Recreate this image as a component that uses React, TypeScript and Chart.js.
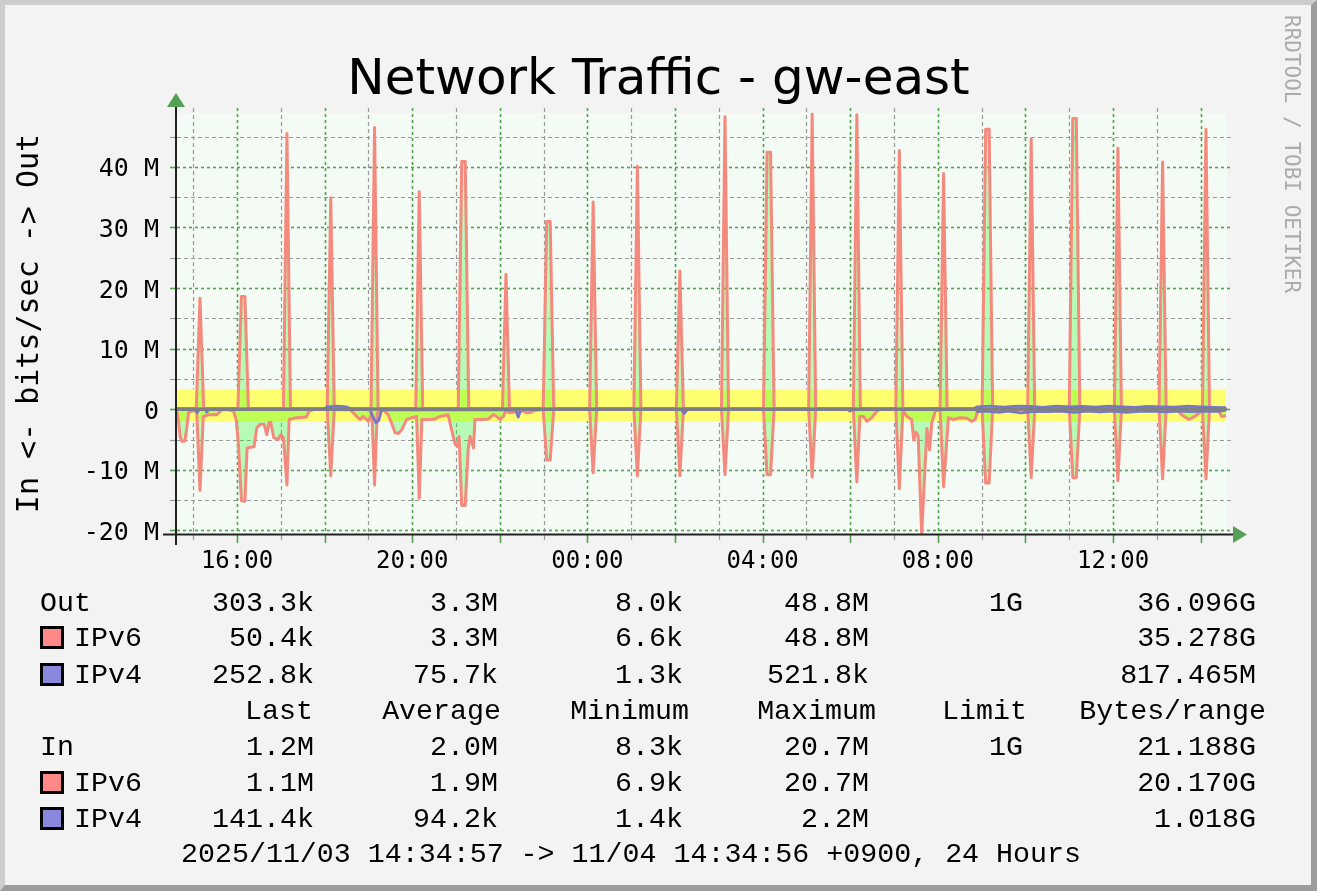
import React, { useEffect, useRef } from 'react';
import { Chart, registerables } from 'chart.js';

Chart.register(...registerables);

// ---------- text ----------
const TITLE = 'Network Traffic - gw-east';
const Y_TITLE = 'In <- bits/sec -> Out';
const WATERMARK = 'RRDTOOL / TOBI OETIKER';
const PERIOD = '2025/11/03 14:34:57 -> 11/04 14:34:56 +0900, 24 Hours';

// ---------- data: [hours since 2025/11/03 00:00, Mbit/s] ----------
const outIPv6: [number, number][] = [
  [14.58, 0.1],
  [15.07, 0.1], [15.155, 18.3], [15.24, 0.1],
  [16.02, 0.1], [16.10, 18.6], [16.18, 18.6], [16.26, 0.1],
  [17.06, 0.1], [17.14, 45.5], [17.22, 0.1],
  [18.06, 0.1], [18.14, 34.9], [18.22, 0.1],
  [19.06, 0.1], [19.14, 46.5], [19.22, 0.1],
  [20.08, 0.1], [20.16, 35.9], [20.24, 0.1],
  [21.05, 0.1], [21.13, 40.9], [21.21, 40.9], [21.29, 0.1],
  [22.06, 0.1], [22.14, 22.3], [22.22, 0.1],
  [22.99, 0.1], [23.07, 31.0], [23.15, 31.0], [23.23, 0.1],
  [24.05, 0.1], [24.13, 34.2], [24.21, 0.1],
  [25.06, 0.1], [25.14, 40.1], [25.22, 0.1],
  [26.03, 0.1], [26.11, 22.8], [26.19, 0.1],
  [27.06, 0.1], [27.14, 48.3], [27.22, 0.1],
  [28.02, 0.1], [28.10, 42.4], [28.18, 42.4], [28.26, 0.1],
  [29.05, 0.1], [29.13, 48.8], [29.21, 0.1],
  [30.07, 0.1], [30.15, 48.6], [30.23, 0.1],
  [31.04, 0.1], [31.12, 42.7], [31.20, 0.1],
  [32.05, 0.1], [32.13, 38.9], [32.21, 0.1],
  [33.01, 0.1], [33.09, 46.2], [33.17, 46.2], [33.25, 0.1],
  [34.05, 0.1], [34.13, 44.6], [34.21, 0.1],
  [35.00, 0.1], [35.08, 48.0], [35.16, 48.0], [35.24, 0.1],
  [36.03, 0.1], [36.11, 43.1], [36.19, 0.1],
  [37.05, 0.1], [37.13, 40.8], [37.21, 0.1],
  [38.04, 0.1], [38.12, 46.2], [38.20, 0.1],
  [38.58, 0.05],
];

// incoming traffic (magnitudes, drawn below zero)
const inIPv6: [number, number][] = [
  [14.58, 0.3], [14.63, 0.5], [14.66, 1.7], [14.70, 4.5], [14.74, 5.3], [14.81, 5.3], [14.85, 3.3], [14.89, 0.6], [14.97, 0.3],
  [15.08, 0.3], [15.155, 13.4], [15.23, 1.2], [15.38, 0.9], [15.54, 0.9], [15.65, 0.1], [15.76, 0.05],
  [15.92, 0.3], [15.98, 1.7], [16.03, 5.5], [16.10, 15.1], [16.18, 15.2], [16.23, 6.4], [16.30, 6.3], [16.39, 6.2],
  [16.45, 3.1], [16.53, 2.5], [16.62, 2.5], [16.68, 4.2], [16.73, 2.2], [16.77, 2.2], [16.84, 4.7], [16.94, 5.0],
  [17.00, 4.2], [17.06, 4.7], [17.14, 12.5], [17.19, 1.7], [17.36, 1.4], [17.58, 1.3], [17.65, 0.3], [17.74, 0.05],
  [18.06, 0.05], [18.14, 11.0], [18.22, 0.05],
  [18.58, 0.1], [18.66, 0.6], [18.73, 1.2], [18.81, 1.7], [18.88, 1.2], [19.00, 2.0], [19.08, 0.6],
  [19.14, 12.5], [19.20, 0.6], [19.34, 0.1], [19.45, 0.9], [19.53, 2.3], [19.61, 3.9], [19.68, 4.0], [19.76, 3.4],
  [19.87, 1.7], [19.99, 1.4], [20.10, 1.2],
  [20.16, 14.7], [20.22, 1.7], [20.45, 1.7], [20.52, 1.6], [20.63, 1.2], [20.82, 0.9], [20.90, 3.4], [20.98, 5.8],
  [21.03, 6.1], [21.07, 4.5], [21.13, 15.9], [21.21, 15.9], [21.28, 6.4], [21.32, 4.5], [21.40, 6.4], [21.43, 1.7],
  [21.62, 1.7], [21.74, 1.6], [21.85, 0.9], [21.93, 1.2], [22.00, 1.7], [22.08, 1.2],
  [22.14, 0.2], [22.23, 0.6], [22.38, 0.4], [22.53, 0.3], [22.61, 0.6], [22.72, 0.5], [22.80, 0.2],
  [22.99, 0.05], [23.07, 8.4], [23.15, 8.4], [23.23, 0.05],
  [24.05, 0.05], [24.13, 10.5], [24.21, 0.05],
  [25.06, 0.05], [25.14, 11.0], [25.22, 0.05],
  [26.03, 0.05], [26.11, 11.0], [26.19, 0.05],
  [27.06, 0.05], [27.14, 10.8], [27.22, 0.05],
  [28.02, 0.05], [28.10, 10.8], [28.18, 10.8], [28.26, 0.05],
  [29.05, 0.05], [29.13, 11.2], [29.21, 0.05],
  [30.07, 0.05], [30.15, 12.0], [30.22, 1.2], [30.30, 1.2], [30.38, 2.0], [30.49, 1.4], [30.61, 0.3], [30.68, 0.05],
  [31.04, 0.05], [31.12, 13.1], [31.20, 0.2], [31.29, 1.2], [31.40, 1.7], [31.45, 5.1], [31.50, 3.8], [31.55, 4.4],
  [31.63, 20.7], [31.75, 3.2], [31.81, 6.7], [31.86, 2.3], [31.94, 0.3],
  [32.05, 0.05], [32.13, 12.8], [32.24, 1.4], [32.35, 1.7], [32.51, 1.4], [32.66, 1.5], [32.77, 2.0], [32.85, 1.7], [32.92, 0.1],
  [33.01, 0.05], [33.09, 12.2], [33.17, 12.2], [33.25, 0.05],
  [34.05, 0.05], [34.13, 11.3], [34.21, 0.05],
  [35.00, 0.05], [35.08, 11.3], [35.16, 11.3], [35.24, 0.05],
  [36.03, 0.05], [36.11, 11.8], [36.19, 0.05],
  [37.05, 0.05], [37.13, 11.5], [37.21, 0.05], [37.48, 0.1], [37.56, 0.9], [37.73, 1.7], [37.86, 1.2], [37.97, 0.6],
  [38.04, 0.1], [38.12, 11.5], [38.20, 0.1], [38.40, 0.1], [38.48, 1.2], [38.58, 1.1],
];

const outIPv4: [number, number][] = [
  [14.58, 0.05], [18.00, 0.05], [18.05, 0.4], [18.30, 0.5], [18.50, 0.4], [18.60, 0.05],
  [32.80, 0.05], [32.90, 0.4], [33.20, 0.5], [33.50, 0.35], [33.80, 0.5], [34.10, 0.45], [34.40, 0.3],
  [34.70, 0.5], [35.00, 0.4], [35.30, 0.45], [35.60, 0.35], [35.90, 0.5], [36.20, 0.4], [36.50, 0.3],
  [36.80, 0.45], [37.10, 0.4], [37.40, 0.35], [37.70, 0.5], [38.00, 0.4], [38.30, 0.3], [38.58, 0.25],
];

const inIPv4: [number, number][] = [
  [14.58, 0.05], [15.05, 0.05], [15.09, 0.6], [15.13, 0.05], [15.28, 0.05], [15.31, 0.5], [15.35, 0.05],
  [19.03, 0.05], [19.10, 1.2], [19.17, 2.2], [19.24, 1.8], [19.30, 0.1],
  [22.36, 0.05], [22.42, 1.3], [22.48, 0.05],
  [26.14, 0.05], [26.21, 0.7], [26.28, 0.05],
  [29.94, 0.05], [29.99, 0.3], [30.04, 0.05],
  [32.85, 0.05], [32.92, 0.4], [33.10, 0.3], [33.40, 0.5], [33.60, 0.3], [33.90, 0.6], [34.20, 0.35],
  [34.50, 0.4], [34.80, 0.3], [35.10, 0.5], [35.40, 0.3], [35.70, 0.45], [36.00, 0.3], [36.30, 0.5],
  [36.60, 0.35], [36.90, 0.3], [37.20, 0.45], [37.50, 0.3], [37.80, 0.4], [38.10, 0.3], [38.40, 0.35], [38.58, 0.14],
];

const periodHours = [14.58, 38.58];
const outAverage = 3.3;
const inAverage = 2.0;

const X_MIN = 14.63;
const X_MAX = 38.6;
const Y_MIN = -20.6;
const Y_MAX = 48.9;

const xTickHours = [16, 20, 24, 28, 32, 36];
const xTickLabels = ['16:00', '20:00', '00:00', '04:00', '08:00', '12:00'];
const yTickValues = [-20, -10, 0, 10, 20, 30, 40];
const yTickLabels = ['-20 M', '-10 M', '0', '10 M', '20 M', '30 M', '40 M'];
const hourGrid = [15, 16, 17, 18, 19, 20, 21, 22, 23, 24, 25, 26, 27, 28, 29, 30, 31, 32, 33, 34, 35, 36, 37, 38];
const valueGrid = [-20, -15, -10, -5, 0, 5, 10, 15, 20, 25, 30, 35, 40, 45];

// ---------- legend ----------
const statHeaders = ['Last', 'Average', 'Minimum', 'Maximum', 'Limit', 'Bytes/range'];
const outTotalStats = ['303.3k', '3.3M', '8.0k', '48.8M', '1G', '36.096G'];
const outIPv6Stats = ['50.4k', '3.3M', '6.6k', '48.8M', '', '35.278G'];
const outIPv4Stats = ['252.8k', '75.7k', '1.3k', '521.8k', '', '817.465M'];
const inTotalStats = ['1.2M', '2.0M', '8.3k', '20.7M', '1G', '21.188G'];
const inIPv6Stats = ['1.1M', '1.9M', '6.9k', '20.7M', '', '20.170G'];
const inIPv4Stats = ['141.4k', '94.2k', '1.4k', '2.2M', '', '1.018G'];

// ---------- styles ----------
const IPV6_LINE = 'rgb(244,137,125)';
const IPV4_LINE = 'rgb(118,118,205)';
const IPV6_SWATCH = '#ff8888';
const IPV4_SWATCH = '#8888dd';
const FILL_GREEN = 'rgba(0,255,0,0.25)';
const BAND_YELLOW = '#ffff70';
const ZERO_GRAY = '#7f7f7f';
const PLOT_BG = '#f4faf4';
const MAJOR = '#55a055';
const MINOR = '#9a9a9a';
const MONO = "'DejaVu Sans Mono', monospace";
const LEGEND_FONT = "'Liberation Mono', monospace";

const rrdPlugin = {
  id: 'rrdGrid',
  beforeDatasetsDraw(chart: any) {
    const { ctx, chartArea: a } = chart;
    const xs = chart.scales.x;
    const ys = chart.scales.y;
    ctx.save();
    ctx.fillStyle = PLOT_BG;
    ctx.fillRect(a.left, a.top, a.right - a.left, a.bottom - a.top);
    for (const v of valueGrid) {
      const major = v % 10 === 0;
      const py = Math.round(ys.getPixelForValue(v)) + 0.5;
      ctx.strokeStyle = major ? MAJOR : MINOR;
      ctx.lineWidth = major ? 1.6 : 1.2;
      ctx.setLineDash(major ? [3, 3] : [4, 3]);
      ctx.beginPath();
      ctx.moveTo(a.left, py);
      ctx.lineTo(a.right + 6, py);
      ctx.stroke();
      ctx.setLineDash([]);
      ctx.beginPath();
      ctx.moveTo(a.left - 7, py);
      ctx.lineTo(a.left, py);
      ctx.stroke();
    }
    for (const h of hourGrid) {
      const major = h % 2 === 0;
      const px = Math.round(xs.getPixelForValue(h)) + 0.5;
      ctx.strokeStyle = major ? MAJOR : MINOR;
      ctx.lineWidth = major ? 1.6 : 1.2;
      ctx.setLineDash(major ? [3, 3] : [4, 3]);
      ctx.beginPath();
      ctx.moveTo(px, a.top - 5);
      ctx.lineTo(px, a.bottom);
      ctx.stroke();
      ctx.setLineDash([]);
      ctx.beginPath();
      ctx.moveTo(px, a.bottom);
      ctx.lineTo(px, a.bottom + (major ? 9 : 6));
      ctx.stroke();
    }
    ctx.restore();
  },
  afterDatasetsDraw(chart: any) {
    const { ctx, chartArea: a } = chart;
    ctx.save();
    ctx.setLineDash([]);
    ctx.strokeStyle = '#222';
    ctx.lineWidth = 2;
    ctx.beginPath();
    ctx.moveTo(a.left - 14, a.bottom + 0.5);
    ctx.lineTo(a.right + 6, a.bottom + 0.5);
    ctx.stroke();
    ctx.beginPath();
    ctx.moveTo(a.left - 1, a.bottom + 11);
    ctx.lineTo(a.left - 1, a.top - 6);
    ctx.stroke();
    ctx.fillStyle = MAJOR;
    ctx.beginPath();
    ctx.moveTo(a.right + 6, a.bottom - 8);
    ctx.lineTo(a.right + 20, a.bottom + 0.5);
    ctx.lineTo(a.right + 6, a.bottom + 9);
    ctx.closePath();
    ctx.fill();
    ctx.beginPath();
    ctx.moveTo(a.left - 10, a.top - 6);
    ctx.lineTo(a.left + 8, a.top - 6);
    ctx.lineTo(a.left - 1, a.top - 20);
    ctx.closePath();
    ctx.fill();
    ctx.restore();
  },
};

const toPoints = (s: [number, number][], sign = 1) => s.map(([x, y]) => ({ x, y: sign * y }));

function Swatch({ color, top }: { color: string; top: number }) {
  return (
    <div
      style={{
        position: 'absolute', left: 40, top, width: 24, height: 23, boxSizing: 'border-box',
        border: '3px solid #000', background: color,
      }}
    />
  );
}

export default function App() {
  const ref = useRef<HTMLCanvasElement>(null);

  useEffect(() => {
    const canvas = ref.current;
    if (!canvas) return;
    const lineBase = { pointRadius: 0, borderJoinStyle: 'round' as const, tension: 0 };
    const chart = new Chart(canvas, {
      type: 'line',
      data: {
        datasets: [
          { label: 'zero', data: toPoints([[periodHours[0], 0], [X_MAX + 0.1, 0]]), borderColor: ZERO_GRAY, borderWidth: 3, fill: false, order: 0, ...lineBase },
          { label: 'IPv4 out', data: toPoints(outIPv4), borderColor: IPV4_LINE, borderWidth: 2.8, fill: false, order: 1, ...lineBase },
          { label: 'IPv4 in', data: toPoints(inIPv4, -1), borderColor: IPV4_LINE, borderWidth: 2.8, fill: false, order: 1, ...lineBase },
          { label: 'IPv6 out', data: toPoints(outIPv6), borderColor: IPV6_LINE, backgroundColor: FILL_GREEN, borderWidth: 3, fill: 'origin', order: 2, ...lineBase },
          { label: 'IPv6 in', data: toPoints(inIPv6, -1), borderColor: IPV6_LINE, backgroundColor: FILL_GREEN, borderWidth: 3, fill: 'origin', order: 2, ...lineBase },
          { label: 'avg out', data: periodHours.map((h) => ({ x: h, y: outAverage })), borderWidth: 0, borderColor: 'rgba(0,0,0,0)', backgroundColor: BAND_YELLOW, fill: 6, order: 3, ...lineBase },
          { label: 'avg in', data: periodHours.map((h) => ({ x: h, y: -inAverage })), borderWidth: 0, borderColor: 'rgba(0,0,0,0)', fill: false, order: 3, ...lineBase },
        ],
      },
      options: {
        responsive: false,
        animation: false,
        devicePixelRatio: 1,
        layout: { padding: 0 },
        plugins: {
          legend: { display: false },
          tooltip: { enabled: false },
          title: {
            display: true,
            text: TITLE,
            color: '#000',
            font: { family: "'DejaVu Sans', sans-serif", size: 50, weight: 'normal', lineHeight: 1.2 },
            padding: { top: 50.9, bottom: 2.1 },
          },
        },
        scales: {
          x: {
            type: 'linear',
            min: X_MIN,
            max: X_MAX,
            grid: { display: false, drawTicks: false },
            border: { display: false },
            ticks: {
              color: '#000',
              font: { family: MONO, size: 24 },
              padding: 13,
              maxRotation: 0,
              autoSkip: false,
              callback: (v: any) => xTickLabels[xTickHours.indexOf(Number(v))] ?? '',
            },
            afterBuildTicks: (s: any) => { s.ticks = xTickHours.map((v) => ({ value: v })); },
            afterFit: (s: any) => { s.height = 357; },
          },
          y: {
            type: 'linear',
            min: Y_MIN,
            max: Y_MAX,
            grid: { display: false, drawTicks: false },
            border: { display: false },
            title: {
              display: true,
              text: Y_TITLE,
              color: '#000',
              font: { family: MONO, size: 30, lineHeight: 1.2 },
              padding: { top: 12, bottom: 0 },
            },
            ticks: {
              color: '#000',
              font: { family: MONO, size: 25 },
              padding: 18,
              labelOffset: 3,
              autoSkip: false,
              callback: (v: any) => yTickLabels[yTickValues.indexOf(Number(v))] ?? '',
            },
            afterBuildTicks: (s: any) => { s.ticks = yTickValues.map((v) => ({ value: v })); },
            afterFit: (s: any) => { s.width = 177; },
          },
          // empty right-hand gutter (holds the watermark area)
          gutter: {
            type: 'linear',
            position: 'right',
            min: 0,
            max: 1,
            grid: { display: false, drawTicks: false },
            border: { display: false },
            ticks: { display: false },
            afterFit: (s: any) => { s.width = 90; },
          },
        },
      },
      plugins: [rrdPlugin],
    } as any);
    return () => chart.destroy();
  }, []);

  const valueRight = [314, 498, 683, 869, 1023, 1256];
  const headerRight = [313, 501, 689, 876, 1027, 1266];
  const rowCenters = [601, 636.3, 672.5, 745, 781, 817];
  const headerCenter = 708.7;
  const rows = [
    { name: 'Out', stats: outTotalStats, swatch: '' },
    { name: 'IPv6', stats: outIPv6Stats, swatch: IPV6_SWATCH },
    { name: 'IPv4', stats: outIPv4Stats, swatch: IPV4_SWATCH },
    { name: 'In', stats: inTotalStats, swatch: '' },
    { name: 'IPv6', stats: inIPv6Stats, swatch: IPV6_SWATCH },
    { name: 'IPv4', stats: inIPv4Stats, swatch: IPV4_SWATCH },
  ];
  const textStyle = (top: number): React.CSSProperties => ({
    position: 'absolute', top: top - 14, height: 32, lineHeight: '32px',
    fontFamily: LEGEND_FONT, fontSize: 28.3, color: '#000', whiteSpace: 'pre',
  });
  const rightCell = (right: number, top: number, text: string, key: string) => (
    <div key={key} style={{ ...textStyle(top), left: right - 300, width: 300, textAlign: 'right' }}>{text}</div>
  );

  return (
    <div style={{ position: 'absolute', left: 0, top: 0, width: 1317, height: 891, overflow: 'hidden' }}>
      <div
        style={{
          position: 'absolute', left: 0, top: 0, width: 1317, height: 891, boxSizing: 'border-box',
          background: '#f3f3f3', borderTop: '5px solid #cdcdcd', borderLeft: '5px solid #cdcdcd',
          borderRight: '6px solid #9c9c9c', borderBottom: '6px solid #9c9c9c',
        }}
      />
      <canvas ref={ref} width={1317} height={891} style={{ position: 'absolute', left: 0, top: 0 }} />
      <div
        style={{
          position: 'absolute', left: 1281, top: 15, writingMode: 'vertical-rl', fontFamily: MONO,
          fontSize: 21, lineHeight: '22px', color: '#ababab', whiteSpace: 'pre',
        }}
      >
        {WATERMARK}
      </div>
      {rows.map((r, i) => (
        <React.Fragment key={'row' + i}>
          {r.swatch ? <Swatch color={r.swatch} top={rowCenters[i] - 10} /> : null}
          <div style={{ ...textStyle(rowCenters[i]), left: r.swatch ? 74 : 40 }}>{r.name}</div>
          {r.stats.map((s, j) => rightCell(valueRight[j], rowCenters[i], s, 'v' + i + '_' + j))}
        </React.Fragment>
      ))}
      {statHeaders.map((h, j) => rightCell(headerRight[j], headerCenter, h, 'h' + j))}
      <div style={{ ...textStyle(852), left: 181 }}>{PERIOD}</div>
    </div>
  );
}
